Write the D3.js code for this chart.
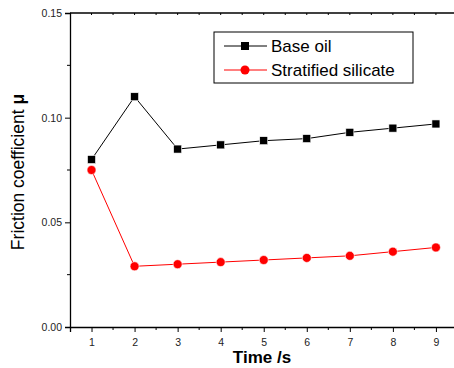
<!DOCTYPE html>
<html>
<head>
<meta charset="utf-8">
<script src="https://cdnjs.cloudflare.com/ajax/libs/d3/7.8.5/d3.min.js"></script>
<style>
  body { margin: 0; background: #fff; }
  text { font-family: "Liberation Sans", Arial, sans-serif; }
</style>
</head>
<body>
<div id="chart"></div>
<script>
var times = [1, 2, 3, 4, 5, 6, 7, 8, 9];
var baseOil = [0.080, 0.110, 0.085, 0.087, 0.089, 0.090, 0.093, 0.095, 0.097];
var silicate = [0.075, 0.029, 0.030, 0.031, 0.032, 0.033, 0.034, 0.036, 0.038];
var yTicks = [0, 0.05, 0.10, 0.15];
var seriesNames = ["Base oil", "Stratified silicate"];

var width = 454, height = 368;
var margin = { top: 13, left: 70, bottom: 41 };

var svg = d3.select("#chart").append("svg")
    .attr("width", width)
    .attr("height", height);

var x = d3.scaleLinear().domain([0.5, 9.5]).range([margin.left, margin.left + 9 * 43.05]);
var y = d3.scaleLinear().domain([0, 0.15]).range([height - margin.bottom, margin.top]);

// axes
var xAxis = d3.axisBottom(x)
    .tickValues(times)
    .tickSize(5)
    .tickFormat(d3.format("d"));
var gx = svg.append("g")
    .attr("transform", `translate(0,${y(0)})`)
    .call(xAxis);
gx.selectAll("text").attr("font-size", 10.5).attr("dy", "1.05em").attr("fill", "#222");

// minor x ticks
svg.append("g").selectAll("line")
    .data(d3.range(1.5, 9.5, 1))
    .enter().append("line")
    .attr("x1", d => x(d)).attr("x2", d => x(d))
    .attr("y1", y(0)).attr("y2", y(0) + 3)
    .attr("stroke", "#000");

var yAxis = d3.axisLeft(y)
    .tickValues(yTicks)
    .tickSize(5)
    .tickFormat(d3.format(".2f"));
var gy = svg.append("g")
    .attr("transform", `translate(${margin.left},0)`)
    .call(yAxis);
gy.selectAll("text").attr("font-size", 10.5).attr("fill", "#222");

svg.append("g").selectAll("line")
    .data([0.025, 0.075, 0.125])
    .enter().append("line")
    .attr("x1", margin.left - 3).attr("x2", margin.left)
    .attr("y1", d => y(d)).attr("y2", d => y(d))
    .attr("stroke", "#000");

[gx, gy].forEach(g => {
    g.select(".domain").attr("stroke-width", 1.3);
    g.selectAll(".tick line").attr("stroke-width", 1);
});

// top axis
svg.append("line")
    .attr("x1", margin.left).attr("x2", width)
    .attr("y1", y(0.15)).attr("y2", y(0.15))
    .attr("stroke", "#000").attr("stroke-width", 1.3);
svg.append("g").selectAll("line")
    .data(d3.range(1, 9.5, 0.5))
    .enter().append("line")
    .attr("x1", d => x(d)).attr("x2", d => x(d))
    .attr("y1", y(0.15)).attr("y2", y(0.15) + 2)
    .attr("stroke", "#000");

// lines
var line = d3.line()
    .x((d, i) => x(times[i]))
    .y(d => y(d));

svg.append("path").datum(baseOil)
    .attr("d", line).attr("fill", "none")
    .attr("stroke", "#000").attr("stroke-width", 1);
svg.append("path").datum(silicate)
    .attr("d", line).attr("fill", "none")
    .attr("stroke", "red").attr("stroke-width", 1);

svg.append("g").selectAll("rect")
    .data(baseOil)
    .enter().append("rect")
    .attr("x", (d, i) => x(times[i]) - 4)
    .attr("y", d => y(d) - 4)
    .attr("width", 8).attr("height", 8)
    .attr("fill", "#000").attr("stroke", "#fff").attr("stroke-width", 0.6);

svg.append("g").selectAll("circle")
    .data(silicate)
    .enter().append("circle")
    .attr("cx", (d, i) => x(times[i]))
    .attr("cy", d => y(d))
    .attr("r", 4.5)
    .attr("fill", "red").attr("stroke", "#fff").attr("stroke-width", 0.6);

// legend
var lg = svg.append("g");
lg.append("rect")
    .attr("x", 214).attr("y", 32)
    .attr("width", 199).attr("height", 51)
    .attr("fill", "#fff").attr("stroke", "#000").attr("stroke-width", 1);

var legendColors = ["#000", "red"];
seriesNames.forEach((name, i) => {
    var ly = 46 + i * 24;
    lg.append("line")
        .attr("x1", 224).attr("x2", 267)
        .attr("y1", ly).attr("y2", ly)
        .attr("stroke", legendColors[i]).attr("stroke-width", 1);
    if (i === 0) {
        lg.append("rect").attr("x", 241).attr("y", ly - 4)
            .attr("width", 8).attr("height", 8).attr("fill", "#000");
    } else {
        lg.append("circle").attr("cx", 245).attr("cy", ly)
            .attr("r", 4.5).attr("fill", "red");
    }
    lg.append("text")
        .attr("x", 271).attr("y", ly + 6)
        .attr("font-size", 17)
        .attr("fill", "#000")
        .text(name);
});

// axis titles
svg.append("text")
    .attr("x", 262).attr("y", 363)
    .attr("text-anchor", "middle")
    .attr("font-size", 17).attr("font-weight", "bold")
    .text("Time /s");

var yt = svg.append("text")
    .attr("transform", "translate(24,172) rotate(-90)")
    .attr("text-anchor", "middle")
    .attr("font-size", 17.5);
yt.append("tspan").text("Friction coefficient  ");
yt.append("tspan").attr("font-weight", "bold").text("μ");
</script>
</body>
</html>
